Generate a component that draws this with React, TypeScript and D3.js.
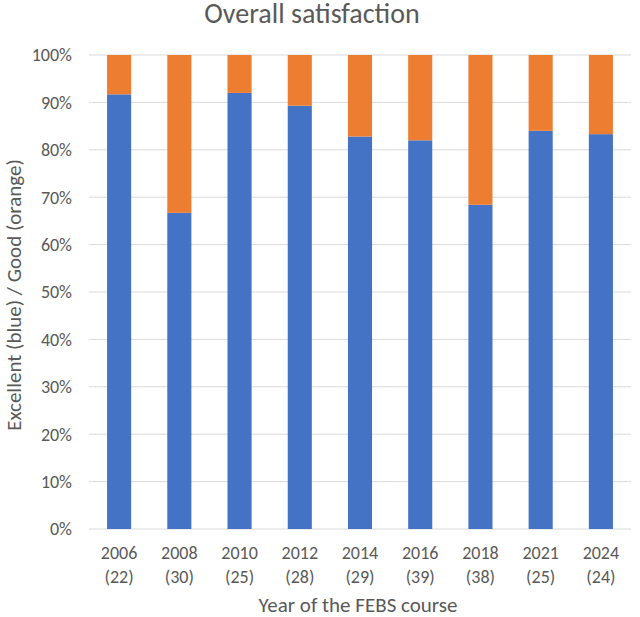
import React from "react";
import * as d3 from "d3";

const years = ["2006", "2008", "2010", "2012", "2014", "2016", "2018", "2021", "2024"];
const counts = ["(22)", "(30)", "(25)", "(28)", "(29)", "(39)", "(38)", "(25)", "(24)"];
const excellent = [0.917, 0.667, 0.92, 0.893, 0.828, 0.82, 0.684, 0.84, 0.833];
const good = excellent.map((e) => 1 - e);
const yTicks = [0, 0.1, 0.2, 0.3, 0.4, 0.5, 0.6, 0.7, 0.8, 0.9, 1];

const W = 640;
const H = 617;
const left = 89;
const right = 631;
const top = 55;
const bottom = 529;
const FONT = "Carlito, 'Open Sans', sans-serif";
const TEXT = "#595959";

export default function App() {
  const x = d3.scaleBand<string>().domain(years).range([left, right]).paddingInner(0.6).paddingOuter(0.3);
  const y = d3.scaleLinear().domain([0, 1]).range([bottom, top]);
  const fmt = d3.format(".0%");
  const cx = (yr: string) => (x(yr) as number) + x.bandwidth() / 2;
  return (
    <svg width={W} height={H} style={{ position: "absolute", left: 0, top: 0, background: "#fff" }} fontFamily={FONT}>
      <text x={312} y={23} textAnchor="middle" fontSize={28} fill={TEXT}>
        Overall satisfaction
      </text>
      {yTicks.map((t) => (
        <g key={t}>
          <line x1={left} x2={right} y1={y(t)} y2={y(t)} stroke="#D9D9D9" strokeWidth={1} />
          <text x={72} y={y(t)} dy="0.35em" textAnchor="end" fontSize={18} fill={TEXT}>
            {fmt(t)}
          </text>
        </g>
      ))}
      {years.map((yr, i) => (
        <g key={yr}>
          <rect x={x(yr)} width={x.bandwidth()} y={y(excellent[i])} height={y(0) - y(excellent[i])} fill="#4472C4" />
          <rect x={x(yr)} width={x.bandwidth()} y={y(excellent[i] + good[i])} height={y(excellent[i]) - y(excellent[i] + good[i])} fill="#ED7D31" />
          <text x={cx(yr)} y={553} dy="0.35em" textAnchor="middle" fontSize={18} fill={TEXT}>
            {yr}
          </text>
          <text x={cx(yr)} y={577} dy="0.35em" textAnchor="middle" fontSize={18} fill={TEXT}>
            {counts[i]}
          </text>
        </g>
      ))}
      <text x={358} y={612} textAnchor="middle" fontSize={21} fill={TEXT}>
        Year of the FEBS course
      </text>
      <text transform={`translate(14,295) rotate(-90)`} dy="0.35em" textAnchor="middle" fontSize={21} fill={TEXT}>
        Excellent (blue) / Good (orange)
      </text>
    </svg>
  );
}
